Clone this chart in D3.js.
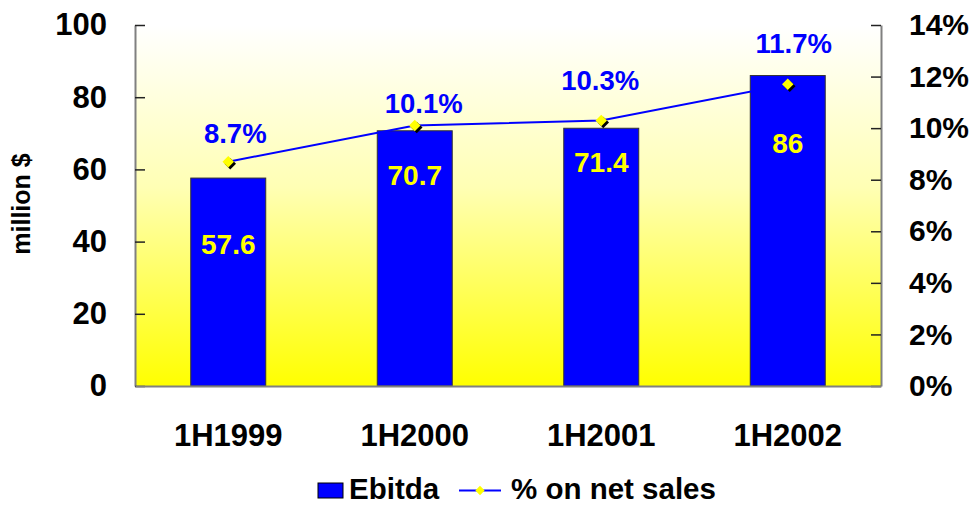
<!DOCTYPE html>
<html>
<head>
<meta charset="utf-8">
<script src="https://cdn.jsdelivr.net/npm/d3@7"></script>
<style>
  html, body { margin: 0; padding: 0; background: #fff; }
  svg { display: block; font-family: Arial, "Liberation Sans", sans-serif; }
</style>
</head>
<body>
<svg id="chart" width="974" height="505"></svg>
<script>
// ---- data ----
const categories = ["1H1999", "1H2000", "1H2001", "1H2002"];
const ebitda = [57.6, 70.7, 71.4, 86];
const pctOnSales = [0.087, 0.101, 0.103, 0.117];
const leftTicks = [0, 20, 40, 60, 80, 100];
const rightTicks = [0, 0.02, 0.04, 0.06, 0.08, 0.10, 0.12, 0.14];
const seriesNames = ["Ebitda", "% on net sales"];
const yTitle = "million $";

// ---- layout ----
const W = 974, H = 505;
const plot = { left: 135, right: 881, top: 25, bottom: 386 };
// manual label placement offsets (as in the original slide)
const valueLabelCenterBelowTop = [66, 44, 34, 67];
const pctLabelBaselineAbove = [19, 13, 30, 31];
const pctLabelDx = [7, 9, -1, 6];

const svg = d3.select("#chart");

const x = d3.scaleBand().domain(categories)
  .range([plot.left, plot.right]).paddingInner(0.598).paddingOuter(0.299);
const yL = d3.scaleLinear().domain([0, 100]).range([plot.bottom, plot.top]);
const yR = d3.scaleLinear().domain([0, 0.14]).range([plot.bottom, plot.top]);

// gradient background
const defs = svg.append("defs");
const grad = defs.append("linearGradient").attr("id", "bg")
  .attr("x1", 0).attr("y1", 0).attr("x2", 0).attr("y2", 1);
grad.append("stop").attr("offset", "0%").attr("stop-color", "#ffffff");
grad.append("stop").attr("offset", "45%").attr("stop-color", "#ffffb4");
grad.append("stop").attr("offset", "100%").attr("stop-color", "#ffff00");

svg.append("rect")
  .attr("x", plot.left).attr("y", plot.top)
  .attr("width", plot.right - plot.left).attr("height", plot.bottom - plot.top)
  .attr("fill", "url(#bg)");

// bars
svg.append("g").selectAll("rect").data(ebitda).join("rect")
  .attr("x", (d, i) => x(categories[i]))
  .attr("y", d => yL(d))
  .attr("width", x.bandwidth())
  .attr("height", d => yL(0) - yL(d))
  .attr("fill", "#0000ff")
  .attr("stroke", "#333333")
  .attr("stroke-width", 1);

// axes
const axL = svg.append("g").attr("transform", `translate(${plot.left},0)`)
  .call(d3.axisLeft(yL).tickValues(leftTicks).tickSizeInner(-10).tickSizeOuter(0).tickPadding(28));
const axR = svg.append("g").attr("transform", `translate(${plot.right},0)`)
  .call(d3.axisRight(yR).tickValues(rightTicks).tickFormat(d3.format(".0%")).tickSizeInner(-10).tickSizeOuter(0).tickPadding(28));
const axB = svg.append("g").attr("transform", `translate(0,${plot.bottom})`)
  .call(d3.axisBottom(x).tickSize(0).tickPadding(38));

[axL, axR, axB].forEach(a => {
  a.select(".domain").attr("stroke", "#808080").attr("stroke-width", 2);
  a.selectAll(".tick line").attr("stroke", "#222").attr("stroke-width", 1.5);
  a.selectAll("text").attr("fill", "#000").attr("font-weight", "bold")
    .attr("font-family", "Arial, 'Liberation Sans', sans-serif");
});
axL.selectAll("text").attr("font-size", 31);
axR.selectAll("text").attr("font-size", 30);
axB.selectAll("text").attr("font-size", 31);

// y title
svg.append("text")
  .attr("transform", `translate(30,204) rotate(-90)`)
  .attr("text-anchor", "middle")
  .attr("font-size", 25).attr("font-weight", "bold").attr("fill", "#000")
  .text(yTitle);

// line
const cx = i => x(categories[i]) + x.bandwidth() / 2;
const line = d3.line().x((d, i) => cx(i)).y(d => yR(d));
svg.append("path").datum(pctOnSales)
  .attr("d", line).attr("fill", "none")
  .attr("stroke", "#0000ff").attr("stroke-width", 2);

// markers
const diamond = d3.symbol().type(d3.symbolDiamond2).size(85);
const mk = svg.append("g");
mk.selectAll("path.sh").data(pctOnSales).join("path").attr("class", "sh")
  .attr("d", diamond)
  .attr("transform", (d, i) => `translate(${cx(i) + 2},${yR(d) + 2})`)
  .attr("fill", "#000");
mk.selectAll("path.mk").data(pctOnSales).join("path").attr("class", "mk")
  .attr("d", diamond)
  .attr("transform", (d, i) => `translate(${cx(i)},${yR(d)})`)
  .attr("fill", "#ffff00");

// value labels (yellow)
svg.append("g").selectAll("text").data(ebitda).join("text")
  .attr("x", (d, i) => cx(i))
  .attr("y", (d, i) => yL(d) + valueLabelCenterBelowTop[i])
  .attr("dy", "0.36em")
  .attr("text-anchor", "middle")
  .attr("font-size", 28).attr("font-weight", "bold").attr("fill", "#ffff00")
  .text(d => d3.format("~g")(d));

// pct labels (blue)
svg.append("g").selectAll("text").data(pctOnSales).join("text")
  .attr("x", (d, i) => cx(i) + pctLabelDx[i])
  .attr("y", (d, i) => yR(d) - pctLabelBaselineAbove[i])
  .attr("text-anchor", "middle")
  .attr("font-size", 27.5).attr("font-weight", "bold").attr("fill", "#0000ff")
  .text(d => d3.format(".1%")(d));

// legend
const lg = svg.append("g");
lg.append("rect").attr("x", 318).attr("y", 483).attr("width", 25).attr("height", 15)
  .attr("fill", "#0000ff").attr("stroke", "#000").attr("stroke-width", 1);
lg.append("text").attr("x", 349).attr("y", 499)
  .attr("font-size", 29.5).attr("font-weight", "bold").attr("fill", "#000").text(seriesNames[0]);
lg.append("line").attr("x1", 459).attr("x2", 501).attr("y1", 490.5).attr("y2", 490.5)
  .attr("stroke", "#0000ff").attr("stroke-width", 2);
lg.append("path").attr("d", d3.symbol().type(d3.symbolDiamond2).size(55))
  .attr("transform", "translate(480,490.5)").attr("fill", "#ffff00");
lg.append("text").attr("x", 511).attr("y", 499)
  .attr("font-size", 29.5).attr("font-weight", "bold").attr("fill", "#000").text(seriesNames[1]);
</script>
</body>
</html>
